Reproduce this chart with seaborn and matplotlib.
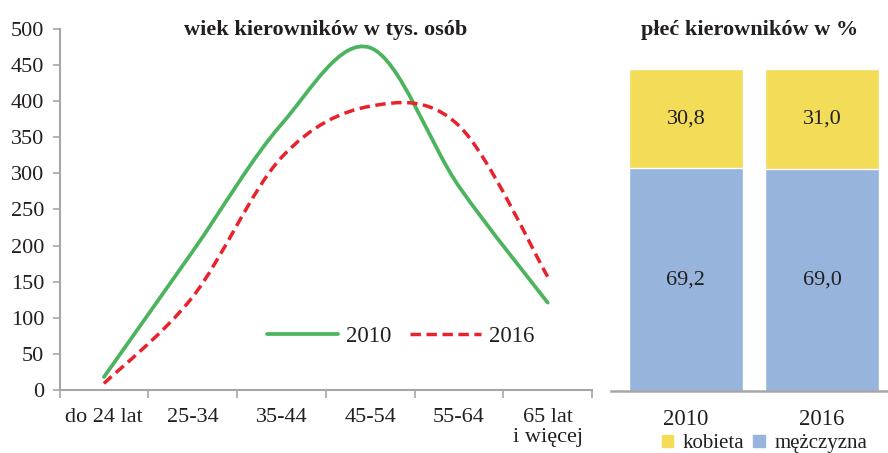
import matplotlib
matplotlib.use("Agg")
import matplotlib.pyplot as plt
from matplotlib.path import Path
from matplotlib.patches import PathPatch, Patch
from matplotlib.lines import Line2D
import seaborn as sns
import numpy as np

# data
age_groups = ["do 24 lat", "25-34", "35-44", "45-54", "55-64", "65 lat\ni więcej"]
managers_2010 = [18, 192, 368, 474, 282, 121]
managers_2016 = [9, 129, 322, 393, 366, 157]

years = ["2010", "2016"]
men_pct = [69.2, 69.0]
women_pct = [30.8, 31.0]

GREEN = "#4cb35f"
RED = "#e8212b"
YELLOW = "#f2dc58"
BLUE = "#97b4dc"
TXT = "#231f20"
SPINE = "#a6a6a6"


def smooth_path(xs, ys):
    # excel-like smoothed line: bezier through points, catmull-rom controls
    pts = np.column_stack([xs, ys]).astype(float)
    ext = np.vstack([pts[0], pts, pts[-1]])
    verts = [tuple(pts[0])]
    codes = [Path.MOVETO]
    for i in range(len(pts) - 1):
        p0, p1, p2, p3 = ext[i], ext[i + 1], ext[i + 2], ext[i + 3]
        c1 = p1 + (p2 - p0) / 6.0
        c2 = p2 - (p3 - p1) / 6.0
        verts += [tuple(c1), tuple(c2), tuple(p2)]
        codes += [Path.CURVE4] * 3
    return Path(verts, codes)


sns.set_theme(style="white")
plt.rcParams["font.family"] = ["Liberation Serif", "DejaVu Serif"]
plt.rcParams["text.color"] = TXT
plt.rcParams["xtick.color"] = TXT
plt.rcParams["ytick.color"] = TXT

fig = plt.figure(figsize=(8.88, 4.53), dpi=100)

# left: age lines
ax = fig.add_axes([0.0671, 0.1391, 0.5996, 0.797])
x = np.arange(len(age_groups))
ax.add_patch(PathPatch(smooth_path(x, managers_2010), fill=False, edgecolor=GREEN,
                       lw=2.7, capstyle="round", zorder=3))
ax.add_patch(PathPatch(smooth_path(x, managers_2016), fill=False, edgecolor=RED,
                       lw=2.5, linestyle=(0, (3.0, 1.6)), zorder=3))
ax.set_xlim(-0.5, len(age_groups) - 0.5)
ax.set_ylim(0, 500)
ax.set_yticks(np.arange(0, 501, 50))
ax.set_xticks(x)
ax.set_xticklabels(age_groups, fontsize=16, linespacing=1.05)
ax.set_xticks(np.arange(-0.5, len(age_groups)), minor=True)
ax.tick_params(axis="x", which="major", length=0, pad=13)
ax.tick_params(axis="x", which="minor", length=6, width=1.2, color=SPINE, direction="out")
ax.tick_params(axis="y", length=5, width=1.2, color=SPINE, direction="out", pad=6, labelsize=16)
ax.tick_params(bottom=True, left=True, which="both")
for s in ["top", "right"]:
    ax.spines[s].set_visible(False)
for s in ["left", "bottom"]:
    ax.spines[s].set_color(SPINE)
    ax.spines[s].set_linewidth(1.5)
ax.set_title("wiek kierowników w tys. osób", fontsize=16, fontweight="bold", y=1.0, pad=-4)

handles = [Line2D([], [], color=GREEN, lw=2.7),
           Line2D([], [], color=RED, lw=2.5, linestyle=(0, (3.0, 1.6)))]
ax.legend(handles, ["2010", "2016"], ncol=2, frameon=False, fontsize=16.5,
          loc="center left", bbox_to_anchor=(0.39, 0.147), borderpad=0,
          handlelength=3.1, handletextpad=0.35, columnspacing=0.8, borderaxespad=0)

# right: gender bars
bx = fig.add_axes([0.688, 0.1369, 0.312, 0.799])
totals = [m + w for m, w in zip(men_pct, women_pct)]
sns.barplot(x=years, y=totals, color=YELLOW, saturation=1, width=0.84, ax=bx)
sns.barplot(x=years, y=men_pct, color=BLUE, saturation=1, width=0.84, ax=bx)
for i, (m, w) in enumerate(zip(men_pct, women_pct)):
    bx.text(i, m / 2, f"{m:.1f}".replace(".", ","), ha="center", va="center", fontsize=16)
    bx.text(i, m + w / 2, f"{w:.1f}".replace(".", ","), ha="center", va="center", fontsize=16)
bx.set_xlim(-0.551, 1.485)
bx.set_ylim(0, 112.4)
bx.set_yticks([])
bx.set_ylabel("")
bx.tick_params(axis="x", length=0, pad=13, labelsize=16.5)
for s in ["top", "right", "left"]:
    bx.spines[s].set_visible(False)
bx.spines["bottom"].set_color(SPINE)
bx.spines["bottom"].set_linewidth(1.8)
bx.set_title("płeć kierowników w %", fontsize=16, fontweight="bold", y=1.0, pad=-4)

fig.legend([Patch(color=YELLOW), Patch(color=BLUE)], ["kobieta", "mężczyzna"],
           ncol=2, frameon=False, fontsize=15, loc="center left",
           bbox_to_anchor=(0.745, 0.02), borderpad=0, borderaxespad=0,
           handlelength=0.55, handleheight=0.55, handletextpad=0.45, columnspacing=0.45)

fig.savefig("out.png", dpi=100)
